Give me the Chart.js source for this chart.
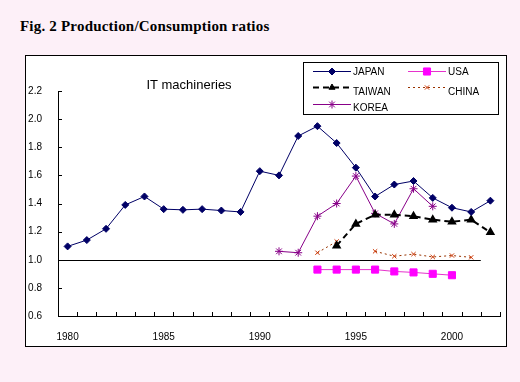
<!DOCTYPE html>
<html lang="en">
  <head>
    <meta charset="UTF-8" />
    <title>Fig. 2 Production/Consumption ratios</title>
    <script src="https://cdn.jsdelivr.net/npm/chart.js@4.4.0/dist/chart.umd.min.js"></script>
    <style>
      body {
        margin: 0;
        background-color: #fdf0f8;
        width: 520px;
        height: 382px;
        overflow: hidden;
        position: relative;
      }

      .fig-title {
        position: absolute;
        left: 20px;
        top: 18px;
        font-family: "Liberation Serif", "DejaVu Serif", serif;
        font-weight: bold;
        font-size: 15px;
        letter-spacing: 0.2px;
        line-height: 17px;
        color: #000;
        white-space: nowrap;
      }

      #chart {
        position: absolute;
        left: 0;
        top: 0;
      }
    </style>
  </head>
  <body>
    <div class="fig-title">Fig. 2 Production/Consumption ratios</div>
    <canvas id="chart" width="520" height="382"></canvas>

    <script>
      // data
      const years = [
        "1980", "1981", "1982", "1983", "1984", "1985", "1986", "1987",
        "1988", "1989", "1990", "1991", "1992", "1993", "1994", "1995",
        "1996", "1997", "1998", "1999", "2000", "2001", "2002",
      ];
      const japan = [
        1.095, 1.14, 1.22, 1.39, 1.45, 1.36, 1.355, 1.36, 1.35, 1.34, 1.63,
        1.6, 1.88, 1.95, 1.83, 1.655, 1.45, 1.535, 1.56, 1.44, 1.37, 1.34,
        1.42,
      ];
      const usa = [
        null, null, null, null, null, null, null, null, null, null, null,
        null, null, 0.93, 0.93, 0.93, 0.93, 0.917, 0.91, 0.9, 0.89, null,
        null,
      ];
      const taiwan = [
        null, null, null, null, null, null, null, null, null, null, null,
        null, null, null, 1.1, 1.255, 1.32, 1.32, 1.31, 1.285, 1.27, 1.285,
        1.195,
      ];
      const china = [
        null, null, null, null, null, null, null, null, null, null, null,
        null, null, 1.05, 1.13, null, 1.06, 1.025, 1.04, 1.02, 1.03, 1.017,
        null,
      ];
      const korea = [
        null, null, null, null, null, null, null, null, null, null, null,
        1.06, 1.05, 1.31, 1.4, 1.595, 1.33, 1.255, 1.505, 1.38, null, null,
        null,
      ];
      const yMin = 0.6;
      const yMax = 2.2;
      const yStep = 0.2;
      const baseValue = 1.0;
      const baseEndYear = "2001";

      const legendOrder = [
        ["JAPAN", "USA"],
        ["TAIWAN", "CHINA"],
        ["KOREA"],
      ];

      // mark helper (legend samples)
      function mark(ctx, style, r, fill, stroke, x, y) {
        if (Chart.helpers && Chart.helpers.drawPoint) {
          ctx.save();
          ctx.fillStyle = fill;
          ctx.strokeStyle = stroke;
          ctx.lineWidth = 1;
          ctx.setLineDash([]);
          Chart.helpers.drawPoint(
            ctx,
            { pointStyle: style, radius: r, rotation: 0, borderWidth: 1 },
            x,
            y
          );
          ctx.restore();
        }
      }

      const framePlugin = {
        id: "frame",
        beforeDraw(chart) {
          const ctx = chart.ctx;
          ctx.save();
          ctx.fillStyle = "#ffffff";
          ctx.fillRect(25, 55, 482, 292);
          ctx.strokeStyle = "#000000";
          ctx.lineWidth = 1;
          ctx.strokeRect(25.5, 55.5, 481, 291);
          ctx.restore();
        },
        beforeDatasetsDraw(chart) {
          const ctx = chart.ctx;
          const xs = chart.scales.x;
          const ys = chart.scales.y;
          const area = chart.chartArea;
          const i = years.indexOf(baseEndYear);
          const xEnd =
            (xs.getPixelForValue(i) + xs.getPixelForValue(i + 1)) / 2;
          const y = Math.round(ys.getPixelForValue(baseValue)) + 0.5;
          ctx.save();
          ctx.strokeStyle = "#000000";
          ctx.lineWidth = 1;
          ctx.beginPath();
          ctx.moveTo(area.left, y);
          ctx.lineTo(xEnd, y);
          ctx.stroke();

          // inward tick marks
          ys.ticks.forEach((t) => {
            const ty = Math.round(ys.getPixelForValue(t.value)) + 0.5;
            ctx.beginPath();
            ctx.moveTo(area.left, ty);
            ctx.lineTo(area.left + 4, ty);
            ctx.stroke();
          });
          const step = (area.right - area.left) / years.length;
          for (let k = 0; k <= years.length; k++) {
            const tx = Math.round(area.left + k * step) + 0.5;
            ctx.beginPath();
            ctx.moveTo(tx, area.bottom);
            ctx.lineTo(tx, area.bottom - 4);
            ctx.stroke();
          }
          ctx.restore();
        },
        afterDraw(chart) {
          const ctx = chart.ctx;
          ctx.save();

          // chart title
          ctx.fillStyle = "#000000";
          ctx.font = '13px "Liberation Sans", "DejaVu Sans", sans-serif';
          ctx.textAlign = "center";
          ctx.textBaseline = "middle";
          ctx.fillText("IT machineries", 189, 85);

          // legend box
          ctx.fillStyle = "#ffffff";
          ctx.fillRect(303, 62, 195, 52);
          ctx.strokeStyle = "#000000";
          ctx.lineWidth = 1;
          ctx.strokeRect(303.5, 62.5, 195, 52);

          const cols = [313, 408];
          const lineRows = [71, 87, 104];
          const textRows = [72, 92, 108];
          ctx.font = '10px "Liberation Sans", "DejaVu Sans", sans-serif';
          ctx.textAlign = "left";
          ctx.textBaseline = "middle";
          legendOrder.forEach((row, r) => {
            row.forEach((name, c) => {
              const ds = chart.data.datasets.find((d) => d.label === name);
              const x0 = cols[c];
              const x1 = x0 + 38;
              const y = lineRows[r] + 0.5;
              ctx.save();
              ctx.strokeStyle = ds.borderColor;
              ctx.lineWidth = ds.borderWidth;
              ctx.setLineDash(ds.borderDash || []);
              ctx.beginPath();
              ctx.moveTo(x0, y);
              ctx.lineTo(x1, y);
              ctx.stroke();
              ctx.restore();
              mark(
                ctx,
                ds.pointStyle,
                ds.pointRadius,
                ds.pointBackgroundColor,
                ds.pointBorderColor,
                (x0 + x1) / 2,
                y
              );
              ctx.fillStyle = "#000000";
              ctx.fillText(name, x1 + 2, textRows[r]);
            });
          });
          ctx.restore();
        },
      };

      new Chart(document.getElementById("chart"), {
        type: "line",
        data: {
          labels: years,
          datasets: [
            {
              label: "JAPAN",
              data: japan,
              borderColor: "#000066",
              borderWidth: 1,
              pointStyle: "rectRot",
              pointRadius: 3.5,
              pointBackgroundColor: "#000066",
              pointBorderColor: "#000066",
            },
            {
              label: "USA",
              data: usa,
              borderColor: "#e633cc",
              borderWidth: 1,
              pointStyle: "rect",
              pointRadius: 5,
              pointBackgroundColor: "#ff00ff",
              pointBorderColor: "#ff00ff",
            },
            {
              label: "TAIWAN",
              data: taiwan,
              borderColor: "#000000",
              borderWidth: 2,
              borderDash: [6, 4],
              pointStyle: "triangle",
              pointRadius: 3.5,
              pointBackgroundColor: "#000000",
              pointBorderColor: "#000000",
            },
            {
              label: "CHINA",
              data: china,
              borderColor: "#993300",
              borderWidth: 1,
              borderDash: [2, 3],
              pointStyle: "crossRot",
              pointRadius: 3,
              pointBackgroundColor: "#cc3300",
              pointBorderColor: "#cc3300",
            },
            {
              label: "KOREA",
              data: korea,
              borderColor: "#880088",
              borderWidth: 1,
              pointStyle: "star",
              pointRadius: 4,
              pointBackgroundColor: "#880088",
              pointBorderColor: "#880088",
            },
          ],
        },
        options: {
          responsive: false,
          animation: false,
          spanGaps: false,
          events: [],
          layout: {
            padding: { top: 91, right: 20, bottom: 0, left: 0 },
          },
          elements: {
            line: { tension: 0, fill: false },
            point: { borderWidth: 1, hoverRadius: 4 },
          },
          plugins: {
            legend: { display: false },
            title: { display: false },
            tooltip: { enabled: false },
          },
          scales: {
            x: {
              offset: true,
              grid: { display: false, drawTicks: false },
              border: { display: true, color: "#000000", width: 1 },
              ticks: {
                autoSkip: false,
                maxRotation: 0,
                padding: 15,
                color: "#000000",
                font: { family: "Liberation Sans", size: 10 },
                callback: function (v, i) {
                  const y = years[i];
                  return Number(y) % 5 === 0 ? y : "";
                },
              },
              afterFit: (s) => {
                s.height = 66;
              },
            },
            y: {
              min: yMin,
              max: yMax,
              grid: { display: false, drawTicks: false },
              border: { display: true, color: "#000000", width: 1 },
              ticks: {
                stepSize: yStep,
                padding: 16,
                color: "#000000",
                font: { family: "Liberation Sans", size: 10 },
                callback: (v) => Number(v).toFixed(1),
              },
              afterFit: (s) => {
                s.width = 58;
              },
            },
          },
        },
        plugins: [framePlugin],
      });
    </script>
  </body>
</html>
